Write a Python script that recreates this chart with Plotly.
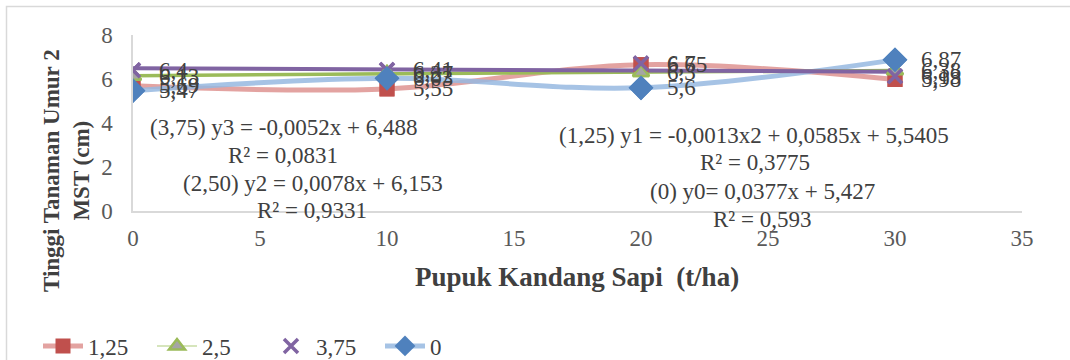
import numpy as np
import plotly.graph_objects as go

# ---------------- data ----------------
x_vals = [0, 10, 20, 30]
series_names = ["1,25", "2,5", "3,75", "0"]
y_125 = [5.69, 5.55, 6.65, 5.98]
y_250 = [6.13, 6.27, 6.30, 6.38]
y_375 = [6.40, 6.41, 6.70, 6.13]
y_0 = [5.47, 6.03, 5.60, 6.87]
x_ticks = [0, 5, 10, 15, 20, 25, 30, 35]
y_ticks = [0, 2, 4, 6, 8]
eq_lines = [
    "(3,75) y3 = -0,0052x + 6,488", "R² = 0,0831",
    "(2,50) y2 = 0,0078x + 6,153", "R² = 0,9331",
    "(1,25) y1 = -0,0013x2 + 0,0585x + 5,5405", "R² = 0,3775",
    "(0) y0= 0,0377x + 5,427", "R² = 0,593",
]

# ---------------- layout helpers ----------------
W, H = 1070, 360
PL, PR, PT, PB = 133, 1022, 35, 211
def px(xp):
    return (xp - PL) / (PR - PL)
def py(yp):
    return (PB - yp) / (PB - PT)

FONT = "Liberation Serif, Times New Roman, serif"
TXT = "#404040"
RED, GREEN, PURPLE, BLUE = "#C0504D", "#9BBB59", "#8064A2", "#4F81BD"

def fmt(v):
    return f"{v:g}".replace(".", ",")

fig = go.Figure()

# data lines (legend entries)
fig.add_trace(go.Scatter(x=x_vals, y=y_125, name=series_names[0], mode="lines+markers",
                         line=dict(color="rgba(220,140,138,0.8)", width=5, shape="spline", smoothing=1),
                         marker=dict(symbol="square", size=15, color=RED)))
fig.add_trace(go.Scatter(x=x_vals, y=y_250, name=series_names[1], mode="lines+markers",
                         line=dict(color="#C9DCA6", width=1.5, shape="spline", smoothing=1),
                         marker=dict(symbol="triangle-up", size=14, color="#A5A5A5",
                                     line=dict(color=GREEN, width=2.5))))
fig.add_trace(go.Scatter(x=x_vals, y=y_375, name=series_names[2], mode="markers",
                         marker=dict(symbol="x-thin", size=14, color=PURPLE,
                                     line=dict(color=PURPLE, width=3.5))))
fig.add_trace(go.Scatter(x=x_vals, y=y_0, name=series_names[3], mode="lines+markers",
                         line=dict(color="rgba(150,185,225,0.85)", width=5, shape="spline", smoothing=1),
                         marker=dict(symbol="diamond", size=19, color=BLUE)))

# linear trendlines for 2,5 and 3,75 computed from the data
xt = np.array([min(x_vals), max(x_vals)], dtype=float)
for ys, col, w in [(y_250, GREEN, 3.5), (y_375, PURPLE, 4)]:
    coef = np.polyfit(x_vals, ys, 1)
    fig.add_trace(go.Scatter(x=xt, y=np.polyval(coef, xt), mode="lines", showlegend=False,
                             hoverinfo="skip", line=dict(color=col, width=w)))

# markers again on top
fig.add_trace(go.Scatter(x=x_vals, y=y_125, mode="markers", showlegend=False,
                         marker=dict(symbol="square", size=15, color=RED)))
fig.add_trace(go.Scatter(x=x_vals, y=y_250, mode="markers", showlegend=False,
                         marker=dict(symbol="triangle-up", size=14, color="#A5A5A5",
                                     line=dict(color=GREEN, width=2.5))))
fig.add_trace(go.Scatter(x=x_vals, y=y_375, mode="markers", showlegend=False,
                         marker=dict(symbol="x-thin", size=14, color=PURPLE,
                                     line=dict(color=PURPLE, width=3.5))))
fig.add_trace(go.Scatter(x=x_vals, y=y_0, mode="markers", showlegend=False,
                         marker=dict(symbol="diamond", size=19, color=BLUE)))

annotations = []
# data labels
for ys in [y_125, y_250, y_375, y_0]:
    for xv, yv in zip(x_vals, ys):
        annotations.append(dict(x=xv, y=yv, xref="x", yref="y", text=fmt(yv), showarrow=False,
                                xanchor="left", yanchor="middle", xshift=24,
                                font=dict(family=FONT, size=23, color=TXT)))

# trendline equations
eq_pos = [(283, 128), (283, 155), (313, 183), (312, 210),
          (754, 135), (755, 162), (762, 191), (762, 220)]
for t, (xp, yp) in zip(eq_lines, eq_pos):
    annotations.append(dict(x=px(xp), y=py(yp), xref="paper", yref="paper", text=t,
                            showarrow=False, xanchor="center", yanchor="middle",
                            font=dict(family=FONT, size=23, color=TXT)))

# axis titles
annotations.append(dict(x=px(577), y=py(277), xref="paper", yref="paper",
                        text="<b>Pupuk Kandang Sapi\u00a0 (t/ha)</b>", showarrow=False,
                        xanchor="center", yanchor="middle",
                        font=dict(family=FONT, size=27, color=TXT)))
annotations.append(dict(x=px(66), y=py(171), xref="paper", yref="paper",
                        text="<b>Tinggi Tanaman Umur 2<br>MST (cm)</b>", showarrow=False,
                        textangle=-90, xanchor="center", yanchor="middle",
                        font=dict(family=FONT, size=23, color=TXT)))

shapes = [dict(type="rect", xref="paper", yref="paper",
               x0=px(6.5), x1=px(1090), y0=py(400), y1=py(6.5),
               line=dict(color="#D9D9D9", width=1.5), fillcolor="rgba(0,0,0,0)", layer="below")]

fig.update_layout(
    width=W, height=H,
    margin=dict(l=PL, r=W - PR, t=PT, b=H - PB, autoexpand=False),
    paper_bgcolor="white", plot_bgcolor="white",
    font=dict(family=FONT, size=23, color=TXT),
    xaxis=dict(range=[0, 35], tickvals=x_ticks, showgrid=False, zeroline=False,
               showline=True, linecolor="#D9D9D9", linewidth=1.5, ticks="",
               tickfont=dict(family=FONT, size=23, color="#595959"), ticklabelstandoff=6),
    yaxis=dict(range=[0, 8], tickvals=y_ticks, showgrid=False, zeroline=False,
               showline=True, linecolor="#D9D9D9", linewidth=1.5, ticks="",
               tickfont=dict(family=FONT, size=23, color="#595959"), ticklabelstandoff=14),
    legend=dict(orientation="h", x=px(38), y=py(346), xanchor="left", yanchor="middle",
                font=dict(family=FONT, size=23, color=TXT), entrywidth=59, entrywidthmode="pixels",
                bgcolor="rgba(0,0,0,0)", itemwidth=40),
    annotations=annotations,
    shapes=shapes,
)

fig.write_html("out.html", config={"displayModeBar": False},
               post_script="document.body.style.margin='0';document.body.style.overflow='hidden';")
